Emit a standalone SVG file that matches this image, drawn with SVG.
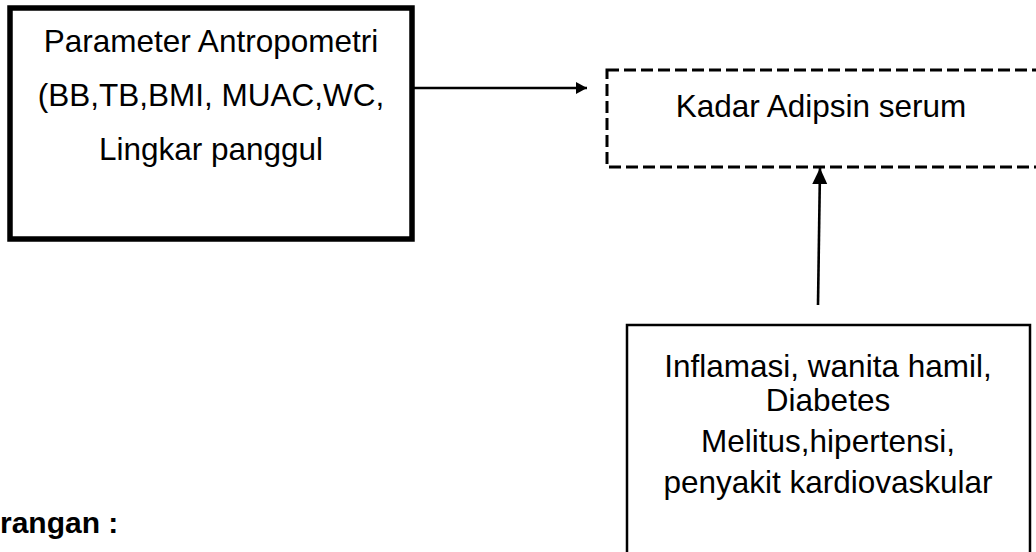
<svg xmlns="http://www.w3.org/2000/svg" width="1036" height="552" viewBox="0 0 1036 552">
<style>
.t{font-family:"Liberation Sans",Arial,sans-serif;font-size:31.5px;fill:#000;text-anchor:middle}
.b{font-family:"Liberation Sans",Arial,sans-serif;font-size:30px;font-weight:bold;fill:#000}
.conn{stroke:#000;stroke-width:2.6;fill:none}
</style>
<defs>
<marker id="ah" markerUnits="userSpaceOnUse" markerWidth="12" markerHeight="14" viewBox="0 0 12 14" refX="11" refY="7" orient="auto">
<path d="M0,1 L11,7 L0,13 Z" fill="#000"/>
</marker>
<marker id="ah2" markerUnits="userSpaceOnUse" markerWidth="17" markerHeight="16" viewBox="0 0 17 16" refX="16" refY="8" orient="auto">
<path d="M0,0.5 L16,8 L0,15.5 Z" fill="#000"/>
</marker>
</defs>
<rect width="1036" height="552" fill="#fff"/>
<g id="node-antropometri">
<rect x="10" y="8" width="402" height="231" fill="#fff" stroke="#000" stroke-width="5.5"/>
<text class="t" x="211" y="52">Parameter Antropometri</text>
<text class="t" x="211" y="106">(BB,TB,BMI, MUAC,WC,</text>
<text class="t" x="211" y="160">Lingkar panggul</text>
</g>
<g id="node-adipsin">
<rect x="607" y="70" width="460" height="97" fill="#fff" stroke="#000" stroke-width="3" stroke-dasharray="12 5"/>
<text class="t" x="821" y="117">Kadar Adipsin serum</text>
</g>
<g id="node-faktor">
<rect x="627" y="325" width="403" height="250" fill="#fff" stroke="#000" stroke-width="2.5"/>
<text class="t" x="828" y="377">Inflamasi, wanita hamil,</text>
<text class="t" x="828" y="411">Diabetes</text>
<text class="t" x="828" y="452">Melitus,hipertensi,</text>
<text class="t" x="828" y="493">penyakit kardiovaskular</text>
</g>
<g id="node-keterangan">
<text class="b" x="0" y="533">rangan :</text>
</g>
<g id="connectors">
<line class="conn" x1="414" y1="88" x2="587" y2="88" marker-end="url(#ah)"/>
<line class="conn" x1="818" y1="305" x2="820" y2="168" marker-end="url(#ah2)"/>
</g>
</svg>
